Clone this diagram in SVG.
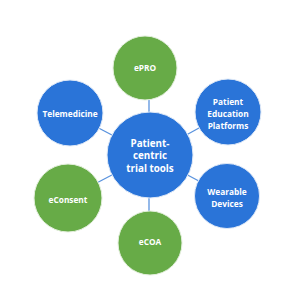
<svg xmlns="http://www.w3.org/2000/svg" width="300" height="300" viewBox="0 0 300 300">
<style>
.blue{fill:#2A74D8;stroke:#dfe9f7;stroke-width:1}
.green{fill:#67AB47;stroke:#e3efdc;stroke-width:1}
.t{font-family:"Open Sans","Liberation Sans",sans-serif;font-weight:bold;fill:#fff;text-anchor:middle;font-size:8.3px}
.c{font-size:9.8px}
.link{stroke:#5A93DE;stroke-width:1.3;fill:none}
</style>
<rect width="300" height="300" fill="#fff"/>
<g id="connectors">
<line class="link" x1="149" y1="155" x2="149" y2="68"/>
<line class="link" x1="149" y1="155" x2="149" y2="243"/>
<line class="link" x1="150" y1="155" x2="70" y2="113"/>
<line class="link" x1="150" y1="155" x2="228" y2="112"/>
<line class="link" x1="150" y1="155" x2="68" y2="198"/>
<line class="link" x1="150" y1="155" x2="227" y2="196"/>
</g>
<g id="epro"><circle class="green" cx="145" cy="68" r="32"/><text class="t" x="145" y="71">ePRO</text></g>
<g id="telemedicine"><circle class="blue" cx="70" cy="113" r="33"/><text class="t" x="70" y="117">Telemedicine</text></g>
<g id="education"><circle class="blue" cx="228" cy="112" r="33"/><text class="t" x="228" y="105">Patient</text><text class="t" x="228" y="117">Education</text><text class="t" x="228" y="129">Platforms</text></g>
<g id="econsent"><circle class="green" cx="68" cy="198" r="34"/><text class="t" x="68" y="203">eConsent</text></g>
<g id="wearable"><circle class="blue" cx="227" cy="196" r="32.5"/><text class="t" x="227" y="195">Wearable</text><text class="t" x="227" y="207">Devices</text></g>
<g id="ecoa"><circle class="green" cx="150" cy="243" r="32"/><text class="t" x="150" y="245">eCOA</text></g>
<g id="center"><circle class="blue" cx="150" cy="155" r="43"/><text class="t c" x="150" y="146.5">Patient-</text><text class="t c" x="150" y="159">centric</text><text class="t c" x="150" y="171.5">trial tools</text></g>
</svg>
